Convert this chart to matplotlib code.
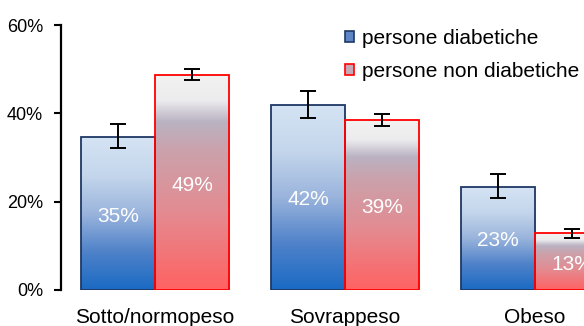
import numpy as np
import matplotlib
matplotlib.use('Agg')
from matplotlib import pyplot as plt
from matplotlib.colors import LinearSegmentedColormap
from matplotlib.patches import Patch

plt.rcParams['font.family'] = ['Liberation Sans', 'DejaVu Sans']

# dati (percentuali)
categorie = ['Sotto/normopeso', 'Sovrappeso', 'Obeso']
diabetici = [34.6, 42.0, 23.4]
diabetici_inf = [32.1, 39.0, 20.9]
diabetici_sup = [37.6, 45.0, 26.2]
non_diabetici = [48.7, 38.6, 12.8]
non_diabetici_inf = [47.5, 37.2, 11.8]
non_diabetici_sup = [50.0, 39.8, 13.8]
serie = ['persone diabetiche', 'persone non diabetiche']

cmap_blu = LinearSegmentedColormap.from_list(
    'blu', [(0, '#1a6ac4'), (0.25, '#4f82c9'), (0.5, '#9ab4dc'),
            (0.75, '#c4d6ec'), (1, '#d5e4f4')])
cmap_rosso = LinearSegmentedColormap.from_list(
    'rosso', [(0, '#ff6262'), (0.35, '#e48a90'), (0.65, '#cba2ac'),
              (0.78, '#bab2c2'), (0.88, '#ececee'), (1, '#f2f2f2')])

def barre_sfumate(ax, x, valori, larghezza, cmap, bordo):
    bars = ax.bar(x, valori, larghezza, facecolor='none', edgecolor=bordo,
                  linewidth=1.3, zorder=3)
    grad = np.linspace(0, 1, 256).reshape(-1, 1)
    for b in bars:
        x0 = b.get_x()
        im = ax.imshow(grad, cmap=cmap, origin='lower', aspect='auto',
                       extent=[x0, x0 + b.get_width(), 0, b.get_height()],
                       zorder=2, interpolation='bilinear')
        im.set_clip_path(b)
    return bars

fig = plt.figure(figsize=(5.84, 3.26), dpi=100)
ax = fig.add_axes([61 / 584, 36 / 326, 1 - 61 / 584, 265 / 326])

x = np.arange(len(categorie))
w = 0.39
xb = x - w / 2
xr = x + w / 2

barre_sfumate(ax, xb, diabetici, w, cmap_blu, '#1f3864')
barre_sfumate(ax, xr, non_diabetici, w, cmap_rosso, '#ff0000')

err_b = [np.array(diabetici) - np.array(diabetici_inf),
         np.array(diabetici_sup) - np.array(diabetici)]
err_r = [np.array(non_diabetici) - np.array(non_diabetici_inf),
         np.array(non_diabetici_sup) - np.array(non_diabetici)]
ax.errorbar(xb, diabetici, yerr=err_b, fmt='none', ecolor='black',
            elinewidth=1.4, capsize=5.5, capthick=1.4, zorder=4)
ax.errorbar(xr, non_diabetici, yerr=err_r, fmt='none', ecolor='black',
            elinewidth=1.4, capsize=5.5, capthick=1.4, zorder=4)

for xi, v in zip(xb, diabetici):
    ax.text(xi, v / 2 - 0.6, '%.0f%%' % v, color='white', fontsize=15,
            ha='center', va='center', zorder=5)
for xi, v in zip(xr, non_diabetici):
    ax.text(xi, v / 2 - 0.6, '%.0f%%' % v, color='white', fontsize=15,
            ha='center', va='center', zorder=5)

ax.set_xlim(-0.495, 2.258)
ax.set_ylim(0, 60)
ax.set_yticks([0, 20, 40, 60])
ax.set_yticklabels(['%d%%' % t for t in [0, 20, 40, 60]], fontsize=13)
ax.set_xticks(x)
ax.set_xticklabels(categorie, fontsize=15)
ax.tick_params(axis='x', length=0, pad=13)
ax.tick_params(axis='y', length=5, width=1.5, pad=8)
for s in ['top', 'right', 'bottom']:
    ax.spines[s].set_visible(False)
ax.spines['left'].set_linewidth(1.6)

handles = [Patch(facecolor='#5f86c4', edgecolor='#1f3864', linewidth=1.2),
           Patch(facecolor='#c8a8b4', edgecolor='#ff0000', linewidth=1.2)]
ax.legend(handles, serie, loc='upper left', bbox_to_anchor=(345 / 584, 1 - 29 / 326),
          bbox_transform=fig.transFigure, frameon=False, fontsize=15,
          handlelength=0.45, handleheight=0.45, handletextpad=0.35,
          labelspacing=0.65, borderaxespad=0, borderpad=0)

fig.savefig('out.png', dpi=100)
